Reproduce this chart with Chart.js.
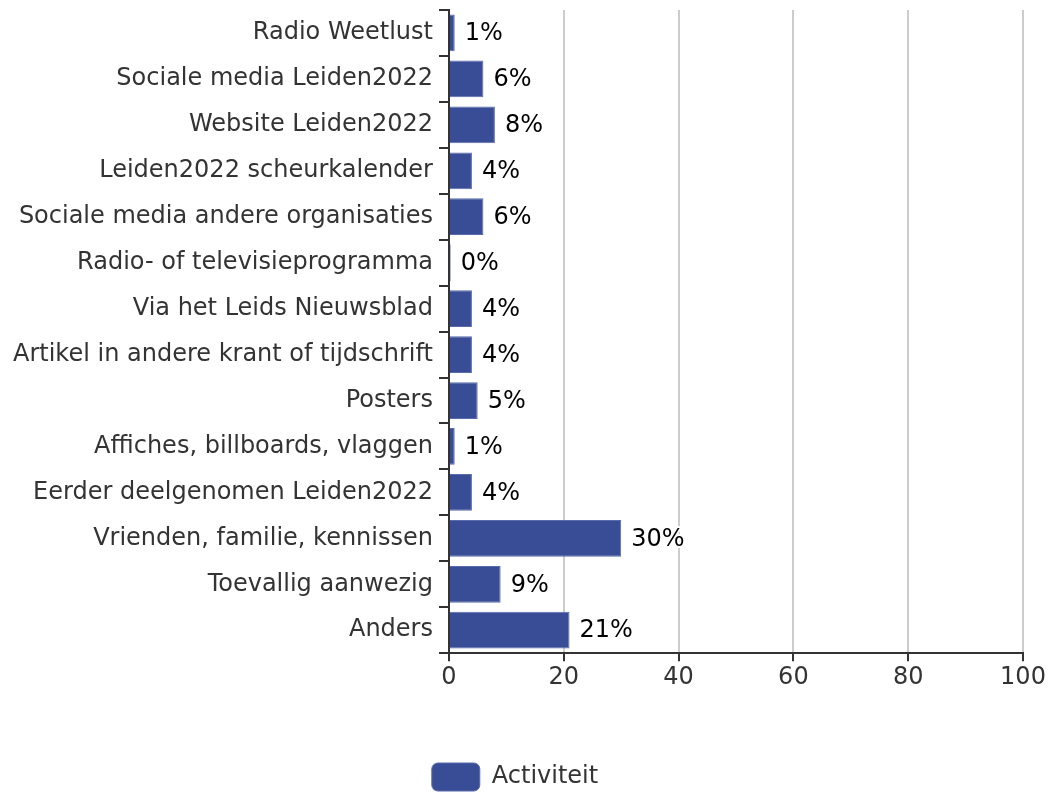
<!DOCTYPE html>
<html>
<head>
<meta charset="utf-8">
<script src="https://cdn.jsdelivr.net/npm/chart.js@4.4.1/dist/chart.umd.min.js"></script>
<style>
  html, body { margin: 0; padding: 0; background: #fff; }
  #wrap { width: 1050px; height: 793px; }
</style>
</head>
<body>
<div id="wrap"><canvas id="barChart"></canvas></div>
<script>
const categories = [
    'Radio Weetlust',
    'Sociale media Leiden2022',
    'Website Leiden2022',
    'Leiden2022 scheurkalender',
    'Sociale media andere organisaties',
    'Radio- of televisieprogramma',
    'Via het Leids Nieuwsblad',
    'Artikel in andere krant of tijdschrift',
    'Posters',
    'Affiches, billboards, vlaggen',
    'Eerder deelgenomen Leiden2022',
    'Vrienden, familie, kennissen',
    'Toevallig aanwezig',
    'Anders'
];
const activiteitValues = [1, 6, 8, 4, 6, 0.3, 4, 4, 5, 1, 4, 30, 9, 21];
const activiteitLabels = ['1%', '6%', '8%', '4%', '6%', '0%', '4%', '4%', '5%', '1%', '4%', '30%', '9%', '21%'];
const xTicks = [0, 20, 40, 60, 80, 100];

Chart.defaults.font.family = 'DejaVu Sans';
Chart.defaults.font.size = 24;
Chart.defaults.color = '#333333';

// value labels at bar end, black text with white halo
const valueLabels = {
    id: 'valueLabels',
    afterDatasetsDraw(chart) {
        const ctx = chart.ctx;
        const meta = chart.getDatasetMeta(0);
        ctx.save();
        ctx.font = '24px "DejaVu Sans"';
        ctx.textAlign = 'left';
        ctx.textBaseline = 'middle';
        ctx.lineJoin = 'round';
        meta.data.forEach(function(bar, i) {
            const x = bar.x + 10;
            const y = bar.y + 1;
            ctx.lineWidth = 4;
            ctx.strokeStyle = '#ffffff';
            ctx.strokeText(activiteitLabels[i], x, y);
            ctx.fillStyle = '#000000';
            ctx.fillText(activiteitLabels[i], x, y);
        });
        ctx.restore();
    }
};

const ctx = document.getElementById('barChart').getContext('2d');
const barChart = new Chart(ctx, {
    type: 'bar',
    data: {
        labels: categories,
        datasets: [{
            label: 'Activiteit',
            data: activiteitValues,
            backgroundColor: '#394c96',
            borderColor: '#5a6bad',
            borderWidth: 1,
            barPercentage: 0.8,
            categoryPercentage: 1.0
        }]
    },
    options: {
        indexAxis: 'y',
        responsive: true,
        maintainAspectRatio: false,
        animation: false,
        layout: {
            padding: { top: 10, right: 27, left: 7, bottom: -8 }
        },
        scales: {
            x: {
                min: 0,
                max: 100,
                afterBuildTicks: function(scale) {
                    scale.ticks = xTicks.map(v => ({ value: v }));
                },
                afterFit: function(scale) {
                    scale.height += 67;
                },
                grid: {
                    color: '#cccccc',
                    lineWidth: 2,
                    drawTicks: true,
                    tickLength: 8,
                    tickColor: '#333333'
                },
                border: { color: '#333333', width: 2 },
                ticks: { color: '#333333', padding: 2 }
            },
            y: {
                afterFit: function(scale) {
                    scale.paddingTop = 0;
                    scale.paddingBottom = 0;
                },
                grid: {
                    offset: true,
                    drawOnChartArea: false,
                    drawTicks: true,
                    tickLength: 10,
                    tickColor: '#333333',
                    lineWidth: 2
                },
                border: { color: '#333333', width: 2 },
                ticks: { color: '#333333', padding: 6 }
            }
        },
        plugins: {
            legend: {
                display: true,
                position: 'bottom',
                labels: {
                    boxWidth: 48,
                    boxHeight: 28,
                    useBorderRadius: true,
                    borderRadius: 6,
                    padding: 2,
                    color: '#333333'
                }
            },
            tooltip: { enabled: false }
        }
    },
    plugins: [valueLabels]
});
</script>
</body>
</html>
